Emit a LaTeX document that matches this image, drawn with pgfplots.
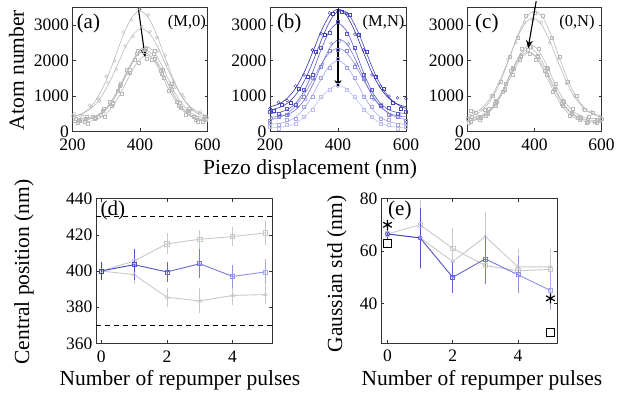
\documentclass[border=0pt]{standalone}
\usepackage{fontspec}
\setmainfont{Liberation Serif}
\usepackage{pgfplots}
\pgfplotsset{compat=1.18}
\usepackage{pgfplotstable}
\usetikzlibrary{arrows.meta}

\definecolor{gr}{RGB}{185,185,185}
\definecolor{gb}{RGB}{200,200,200}
\definecolor{bA}{RGB}{45,45,170}
\definecolor{bB}{RGB}{65,65,195}
\definecolor{bC}{RGB}{90,90,205}
\definecolor{bD}{RGB}{115,115,215}
\definecolor{bE}{RGB}{140,140,225}
\definecolor{bF}{RGB}{165,165,235}
\definecolor{bG}{RGB}{190,190,245}
\definecolor{dA}{RGB}{65,65,190}
\definecolor{dB}{RGB}{80,80,200}
\definecolor{dC}{RGB}{100,100,210}
\definecolor{dD}{RGB}{120,120,220}
\definecolor{dE}{RGB}{145,145,230}
\definecolor{dF}{RGB}{170,170,240}

\tikzset{
  plab/.style={anchor=west, inner sep=0pt, font=\fontsize{21}{21}\selectfont},
  slab/.style={anchor=east, inner sep=0pt, font=\fontsize{16.5}{16.5}\selectfont},
}
\pgfplotsset{
  panel/.style={scale only axis, anchor=north west,
    axis line style={draw=black!80, line width=0.6pt},
    tick style={draw=black!80, line width=0.5pt},
    tick align=inside, major tick length=3pt,
    tick label style={font=\fontsize{17.5}{17.5}\selectfont},
    /pgf/number format/assume math mode=true,
    /pgf/number format/1000 sep={},
    xticklabel={\pgfmathprintnumber[assume math mode=true,1000 sep={}]{\tick}},
    yticklabel={\pgfmathprintnumber[assume math mode=true,1000 sep={}]{\tick}},
    xticklabel style={yshift=-3.5pt}},
  top/.style={panel, width=135pt, height=124pt,
    xmin=200, xmax=600, ymin=0, ymax=3500,
    xtick={200,400,600}, ytick={0,1000,2000,3000}},
  fit/.style={smooth, line width=0.6pt, no markers},
  dat/.style={only marks, mark size=1.5pt, mark options={line width=0.4pt}, restrict x to domain=200:600},
  ptE/.style={only marks, mark size=2pt, mark options={line width=0.6pt},
    error bars/.cd, y dir=both, y explicit, error mark=-,
    error bar style={line width=0.7pt}, error mark options={line width=0.7pt, mark size=2.5pt}},
  lnE/.style={sharp plot, line width=0.9pt, mark size=2.2pt, mark options={line width=0.6pt},
    error bars/.cd, y dir=both, y explicit, error mark=-,
    error bar style={line width=0.7pt}, error mark options={line width=0.7pt, mark size=2.5pt}},
}

% ---------- panel (a) ----------
\pgfplotstableread{
x f d
200 402 440
225 484 430
250 658 740
275 969 930
300 1448 1560
325 2067 1990
350 2714 2800
375 3211 3150
400 3400 3450
425 3211 3290
450 2714 2650
475 2067 2150
500 1448 1400
525 969 1050
550 658 610
575 484 520
600 402 380
}\TaA
\pgfplotstableread{
x f d
180 415 415
205 443 500
230 510 470
255 653 700
280 908 860
305 1300 1380
330 1808 1750
355 2338 2420
380 2745 2680
405 2900 2960
430 2745 2820
455 2338 2280
480 1808 1900
505 1300 1250
530 908 960
555 653 610
580 510 560
605 443 443
630 415 415
}\TaB
\pgfplotstableread{
x f d
190 302 302
215 308 260
240 328 370
265 388 350
290 528 600
315 798 740
340 1216 1290
365 1714 1650
390 2134 2210
415 2300 2240
440 2134 2200
465 1714 1640
490 1216 1300
515 798 740
540 528 580
565 388 340
590 328 370
615 308 308
640 302 302
}\TaC
\pgfplotstableread{
x f d
195 252 252
220 258 300
245 277 230
270 334 380
295 467 420
320 723 790
345 1120 1060
370 1593 1660
395 1992 1930
420 2150 2050
445 1992 2060
470 1593 1530
495 1120 1190
520 723 680
545 467 520
570 334 290
595 277 320
620 258 258
645 252 252
}\TaD
\pgfplotstableread{
x f d
193 352 352
218 358 320
243 379 420
268 440 400
293 584 640
318 860 820
343 1289 1350
368 1799 1740
393 2230 2290
418 2400 2330
443 2230 2290
468 1799 1740
493 1289 1350
518 860 810
543 584 630
568 440 400
593 379 420
618 358 358
643 352 352
}\TaE
\pgfplotstableread{
x f d
185 302 302
210 308 350
235 327 290
260 386 430
285 522 480
310 786 830
335 1193 1140
360 1679 1740
385 2088 2030
410 2250 2310
435 2088 2020
460 1679 1730
485 1193 1150
510 786 830
535 522 480
560 386 420
585 327 290
610 308 308
635 302 302
}\TaF

% ---------- panel (b) ----------
\pgfplotstableread{
x f d
200 698 650
225 773 820
250 933 880
275 1218 1280
300 1658 1600
325 2226 2300
350 2820 2760
375 3276 3350
400 3450 3400
425 3276 3330
450 2820 2750
475 2226 2300
500 1658 1600
525 1218 1280
550 933 1000
575 773 950
600 698 930
}\TbA
\pgfplotstableread{
x f d
185 597 597
210 628 580
235 705 760
260 868 820
285 1159 1220
310 1606 1550
335 2185 2260
360 2789 2720
385 3253 3320
410 3430 3380
435 3253 3310
460 2789 2730
485 2185 2250
510 1606 1540
535 1159 1210
560 868 820
585 705 650
610 628 628
635 597 597
}\TbB
\pgfplotstableread{
x f d
200 510 560
225 536 490
250 612 650
275 791 750
300 1135 1190
325 1668 1610
350 2303 2370
375 2838 2780
400 3050 3100
425 2838 2770
450 2303 2360
475 1668 1610
500 1135 1180
525 791 740
550 612 660
575 536 500
600 510 560
}\TbC
\pgfplotstableread{
x f d
180 402 402
205 409 380
230 431 470
255 497 460
280 651 700
305 948 900
330 1408 1470
355 1955 1900
380 2417 2480
405 2600 2550
430 2417 2470
455 1955 1900
480 1408 1460
505 948 900
530 651 700
555 497 460
580 431 470
605 409 409
630 402 402
}\TbD
\pgfplotstableread{
x f d
200 335 300
225 390 420
250 507 470
275 716 760
300 1038 990
325 1454 1510
350 1889 1840
375 2223 2280
400 2350 2300
425 2223 2280
450 1889 1830
475 1454 1500
500 1038 990
525 716 760
550 507 470
575 390 420
600 335 310
}\TbE
\pgfplotstableread{
x f d
200 207 240
225 225 190
250 279 320
275 405 370
300 648 690
325 1024 980
350 1473 1520
375 1851 1800
400 2000 2050
425 1851 1800
450 1473 1520
475 1024 980
500 648 690
525 405 370
550 279 320
575 225 190
600 207 240
}\TbF
\pgfplotstableread{
x f d
200 105 130
225 117 90
250 153 180
275 237 210
300 399 430
325 650 620
350 948 980
375 1200 1170
400 1300 1330
425 1200 1170
450 948 980
475 650 620
500 399 430
525 237 210
550 153 180
575 117 90
600 105 130
}\TbG

% ---------- panel (c) ----------
\pgfplotstableread{
x f d
200 402 360
225 484 520
250 658 620
275 969 1010
300 1448 1400
325 2067 2120
350 2714 2660
375 3211 3260
400 3400 3360
425 3211 3260
450 2714 2660
475 2067 2120
500 1448 1400
525 969 1010
550 658 620
575 484 520
600 402 360
}\TcA
\pgfplotstableread{
x f d
170 417 417
195 448 448
220 523 560
245 683 640
270 968 1010
295 1408 1360
320 1976 2030
345 2570 2510
370 3026 3090
395 3200 3150
420 3026 3090
445 2570 2510
470 1976 2030
495 1408 1360
520 968 1010
545 683 640
570 523 560
595 448 420
620 417 417
}\TcB
\pgfplotstableread{
x f d
160 302 302
185 308 308
210 329 290
235 390 430
260 534 500
285 810 860
310 1239 1190
335 1749 1800
360 2180 2130
385 2350 2400
410 2180 2130
435 1749 1800
460 1239 1190
485 810 860
510 534 500
535 390 430
560 329 290
585 308 340
610 302 302
}\TcC
\pgfplotstableread{
x f d
155 252 252
180 258 258
205 278 240
230 338 380
255 478 440
280 748 790
305 1166 1120
330 1664 1710
355 2084 2040
380 2250 2300
405 2084 2040
430 1664 1710
455 1166 1120
480 748 790
505 478 440
530 338 380
555 278 240
580 258 290
605 252 252
}\TcD
\pgfplotstableread{
x f d
163 352 352
188 358 358
213 379 420
238 442 400
263 589 630
288 873 830
313 1312 1360
338 1835 1780
363 2276 2330
388 2450 2400
413 2276 2330
438 1835 1780
463 1312 1360
488 873 830
513 589 630
538 442 400
563 379 420
588 358 320
613 352 352
}\TcE
\pgfplotstableread{
x f d
160 282 282
185 288 288
210 307 600
235 366 330
260 502 540
285 766 730
310 1173 1220
335 1659 1610
360 2068 2110
385 2230 2190
410 2068 2110
435 1659 1610
460 1173 1220
485 766 730
510 502 540
535 366 330
560 307 340
585 288 260
610 282 282
}\TcF

\begin{document}
\begin{tikzpicture}
\useasboundingbox (0,0) rectangle (617pt,394pt);

% (a)
\begin{axis}[top, at={(72.5pt,386.5pt)}]
\addplot[fit, gr] table[y=f]{\TaA};
\addplot[dat, gr, mark=o] table[y=d]{\TaA};
\addplot[fit, gr] table[y=f]{\TaB};
\addplot[dat, gr, mark=o] table[y=d]{\TaB};
\addplot[fit, gr] table[y=f]{\TaC};
\addplot[dat, gr, mark=square] table[y=d]{\TaC};
\addplot[fit, gr] table[y=f]{\TaD};
\addplot[dat, gr, mark=square] table[y=d]{\TaD};
\addplot[fit, gr] table[y=f]{\TaE};
\addplot[dat, gr, mark=square] table[y=d]{\TaE};
\addplot[fit, gr] table[y=f]{\TaF};
\addplot[dat, gr, mark=square] table[y=d]{\TaF};
\draw[-{Stealth[length=8pt,width=7pt]}, line width=1.1pt] (axis cs:395,3490) -- (axis cs:415,2100);
\node[plab] at (rel axis cs:0.03,0.875) {(a)};
\node[slab] at (rel axis cs:0.99,0.88) {(M,0)};
\end{axis}

% (b)
\begin{axis}[top, at={(270pt,386.5pt)}, width=136pt]
\addplot[fit, bG] table[y=f]{\TbG};
\addplot[dat, bG, mark=square] table[y=d]{\TbG};
\addplot[fit, bF] table[y=f]{\TbF};
\addplot[dat, bF, mark=square] table[y=d]{\TbF};
\addplot[fit, bE] table[y=f]{\TbE};
\addplot[dat, bE, mark=square] table[y=d]{\TbE};
\addplot[fit, bD] table[y=f]{\TbD};
\addplot[dat, bD, mark=o] table[y=d]{\TbD};
\addplot[fit, bC] table[y=f]{\TbC};
\addplot[dat, bC, mark=square] table[y=d]{\TbC};
\addplot[fit, bB] table[y=f]{\TbB};
\addplot[dat, bB, mark=square] table[y=d]{\TbB};
\addplot[fit, bA] table[y=f]{\TbA};
\addplot[dat, bA, mark=o] table[y=d]{\TbA};
\draw[-{Stealth[length=8pt,width=7pt]}, line width=1.1pt] (axis cs:400,3450) -- (axis cs:400,1230);
\node[plab] at (rel axis cs:0.05,0.875) {(b)};
\node[slab] at (rel axis cs:0.99,0.88) {(M,N)};
\end{axis}

% (c)
\begin{axis}[top, at={(467.5pt,386.5pt)}, width=134pt]
\addplot[fit, gr] table[y=f]{\TcA};
\addplot[dat, gr, mark=square] table[y=d]{\TcA};
\addplot[fit, gr] table[y=f]{\TcB};
\addplot[dat, gr, mark=o] table[y=d]{\TcB};
\addplot[fit, gr] table[y=f]{\TcC};
\addplot[dat, gr, mark=square] table[y=d]{\TcC};
\addplot[fit, gr] table[y=f]{\TcD};
\addplot[dat, gr, mark=square] table[y=d]{\TcD};
\addplot[fit, gr] table[y=f]{\TcE};
\addplot[dat, gr, mark=square] table[y=d]{\TcE};
\addplot[fit, gr] table[y=f]{\TcF};
\addplot[dat, gr, mark=square] table[y=d]{\TcF};
\coordinate (cS) at (axis cs:405,3680);
\coordinate (cE) at (axis cs:381,2350);
\node[plab] at (rel axis cs:0.056,0.875) {(c)};
\node[slab] at (rel axis cs:0.95,0.88) {(0,N)};
\end{axis}
\draw[-{Stealth[length=8pt,width=7pt]}, line width=1.1pt] (cS) -- (cE);

% (d)
\begin{axis}[panel, at={(96pt,195.5pt)}, width=176pt, height=145pt,
  xmin=-0.16, xmax=5.2, ymin=360, ymax=440, xtick={0,2,4}, ytick={360,380,400,420,440}]
\addplot[black, dashed, line width=0.8pt, dash pattern=on 5pt off 4pt] coordinates {(-0.16,430) (5.2,430)};
\addplot[black, dashed, line width=0.8pt, dash pattern=on 5pt off 4pt] coordinates {(-0.16,370) (5.2,370)};
\addplot[gb, mark=square, lnE] coordinates {(0,400) +- (0,3) (1,405.5) +- (0,4.5) (2,415) +- (0,4.5) (3,417.5) +- (0,4) (4,419) +- (0,4) (5,421) +- (0,5)};
\addplot[gb, mark=triangle, lnE] coordinates {(0,400) +- (0,3) (1,398) +- (0,4) (2,385.5) +- (0,4) (3,383.5) +- (0,5.5) (4,386.5) +- (0,4) (5,387) +- (0,4)};
\addplot[dA, line width=0.9pt] coordinates {(0,400) (1,403.5)};
\addplot[dB, line width=0.9pt] coordinates {(1,403.5) (2,399.5)};
\addplot[dC, line width=0.9pt] coordinates {(2,399.5) (3,404)};
\addplot[dD, line width=0.9pt] coordinates {(3,404) (4,397)};
\addplot[dE, line width=0.9pt] coordinates {(4,397) (5,399.5)};
\addplot[dA, mark=square, ptE] coordinates {(0,400) +- (0,3.5)};
\addplot[dB, mark=square, ptE] coordinates {(1,403.5) +- (0,7)};
\addplot[dC, mark=square, ptE] coordinates {(2,399.5) +- (0,4)};
\addplot[dD, mark=square, ptE] coordinates {(3,404) +- (0,6.5)};
\addplot[dE, mark=square, ptE] coordinates {(4,397) +- (0,5)};
\addplot[dF, mark=square, ptE] coordinates {(5,399.5) +- (0,5.5)};
\node[plab] at (rel axis cs:0.025,0.92) {(d)};
\end{axis}

% (e)
\begin{axis}[panel, at={(381pt,195.5pt)}, width=176pt, height=144.5pt,
  xmin=-0.2, xmax=5.2, ymin=25, ymax=80, xtick={0,2,4}, ytick={40,60,80}]
\addplot[gb, mark=square, lnE] coordinates {(0,66.5) +- (0,1) (1,70) +- (0,8.5) (2,61) +- (0,7) (3,54.5) +- (0,6) (4,52.5) +- (0,7.5) (5,53) +- (0,7)};
\addplot[gb, mark=triangle, lnE] coordinates {(0,66.5) +- (0,1) (1,65) +- (0,11) (2,56) +- (0,10) (3,65.5) +- (0,8.5) (4,54) +- (0,6) (5,54) +- (0,6)};
\addplot[dA, line width=0.9pt] coordinates {(0,66.5) (1,65)};
\addplot[dB, line width=0.9pt] coordinates {(1,65) (2,50)};
\addplot[dC, line width=0.9pt] coordinates {(2,50) (3,57)};
\addplot[dD, line width=0.9pt] coordinates {(3,57) (4,51)};
\addplot[dE, line width=0.9pt] coordinates {(4,51) (5,45)};
\addplot[dA, mark=o, ptE] coordinates {(0,66.5) +- (0,1)};
\addplot[dB, mark=o, ptE] coordinates {(1,65) +- (0,10.5)};
\addplot[dC, mark=square, ptE] coordinates {(2,50) +- (0,5)};
\addplot[dD, mark=square, ptE] coordinates {(3,57) +- (0,8.5)};
\addplot[dE, mark=square, ptE] coordinates {(4,51) +- (0,6)};
\addplot[dF, mark=square, ptE] coordinates {(5,45) +- (0,6.5)};
\addplot[black, only marks, mark=asterisk, mark size=5pt, line width=1.2pt] coordinates {(0,70) (5,42)};
\addplot[black, only marks, mark=square, mark size=4pt, line width=0.8pt] coordinates {(0,63) (5,29)};
\node[plab] at (rel axis cs:0.04,0.92) {(e)};
\end{axis}

% labels
\node[rotate=90, font=\fontsize{21.5}{22}\selectfont] at (16.5pt,324pt) {Atom number};
\node[font=\fontsize{21.5}{22}\selectfont] at (310pt,225pt) {Piezo displacement (nm)};
\node[rotate=90, font=\fontsize{21.5}{22}\selectfont] at (24pt,122pt) {Central position (nm)};
\node[font=\fontsize{21.5}{22}\selectfont] at (180pt,14pt) {Number of repumper pulses};
\node[rotate=90, font=\fontsize{21.5}{22}\selectfont] at (337pt,120pt) {Gaussian std (nm)};
\node[font=\fontsize{21.5}{22}\selectfont] at (482pt,14pt) {Number of repumper pulses};
\end{tikzpicture}
\end{document}
